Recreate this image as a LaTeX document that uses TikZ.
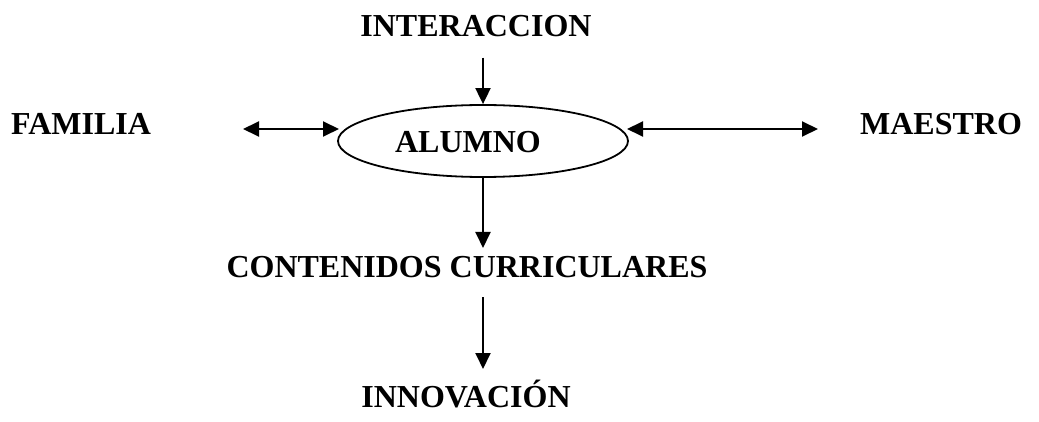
\documentclass[tikz,border=0pt]{standalone}
\usepackage{fontspec}
\setmainfont{Liberation Serif}
\usetikzlibrary{arrows.meta,shapes.geometric}
\begin{document}
\begin{tikzpicture}[x=1pt,y=-1pt,
  lbl/.style={font=\fontsize{32}{37}\selectfont\bfseries, inner sep=0pt, anchor=base},
  conn/.style={line width=1.9pt, -{Triangle[length=16pt,width=15pt]}},
  dconn/.style={line width=1.9pt, {Triangle[length=16pt,width=15pt]}-{Triangle[length=16pt,width=15pt]}}]
\useasboundingbox (0,0) rectangle (1039,422);
\node[lbl] (int) at (476,37) {INTERACCION};
\node[lbl] (fam) at (81,135) {FAMILIA};
\node[lbl] (mae) at (941,135) {MAESTRO};
\node[draw, ellipse, line width=1.8pt, minimum width=290pt, minimum height=72pt, inner sep=0pt] (alu) at (483,141) {};
\node[lbl] (alut) at (468,153) {ALUMNO};
\node[lbl] (con) at (467,277) {CONTENIDOS CURRICULARES};
\node[lbl] (inn) at (466,407) {INNOVACIÓN};
\coordinate (l1) at (243,129);
\coordinate (l2) at (339,129);
\coordinate (r1) at (627,129);
\coordinate (r2) at (818,129);
\draw[conn] (int.south -| alu.north) ++(0,20) coordinate (i1) -- (alu.north);
\draw[dconn] (l1) -- (l2);
\draw[dconn] (r1) -- (r2);
\draw[conn] (alu.south) -- (483,248) coordinate (c1);
\coordinate (c2) at (483,297);
\coordinate (c3) at (483,369);
\draw[conn] (c2) -- (c3);
\end{tikzpicture}
\end{document}
